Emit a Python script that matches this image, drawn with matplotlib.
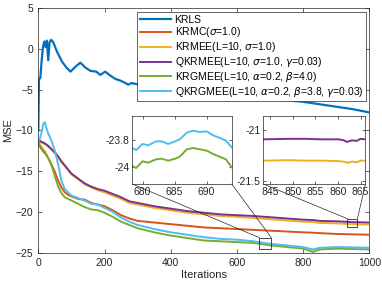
# MSE learning curves of kernel adaptive filters, with two zoomed insets
import matplotlib
matplotlib.use("Agg")
import matplotlib.pyplot as plt
from matplotlib.patches import Rectangle, ConnectionPatch

plt.rcParams['font.family'] = ['Liberation Sans', 'DejaVu Sans']
plt.rcParams['font.size'] = 7.5

# ---- data ----
iters = [0, 5, 10, 15, 20, 25, 30, 40, 50, 60, 70, 80, 90, 100, 120, 140, 160, 180,
         200, 225, 250, 275, 300, 350, 400, 450, 500, 550, 600, 650, 700, 750, 800,
         830, 850, 900, 950, 1000]

krmc = [-11.6, -12.0, -12.3, -12.6, -12.8, -13.1, -13.4, -14.2, -15.1, -16.2, -17.0, -17.6,
        -17.9, -18.1, -18.4, -18.5, -18.9, -19.1, -19.3, -19.8, -20.4, -20.8, -21.1, -21.3,
        -21.5, -21.7, -21.9, -22.0, -22.1, -22.2, -22.3, -22.4, -22.5, -22.55, -22.6, -22.7,
        -22.75, -22.8]
krmee = [-11.3, -11.4, -11.5, -11.6, -11.7, -11.85, -12.0, -12.4, -12.8, -13.3, -13.9, -14.4,
         -14.9, -15.4, -16.0, -16.6, -17.0, -17.35, -17.6, -18.0, -18.4, -18.9, -19.1, -19.5,
         -19.8, -20.1, -20.3, -20.5, -20.6, -20.75, -20.9, -21.05, -21.2, -21.25, -21.35,
         -21.4, -21.5, -21.55]
qkrmee = [-11.2, -11.3, -11.4, -11.5, -11.6, -11.75, -11.9, -12.3, -12.7, -13.2, -13.8, -14.3,
          -14.8, -15.3, -15.9, -16.5, -16.9, -17.2, -17.4, -17.8, -18.2, -18.7, -18.9, -19.3,
          -19.6, -19.9, -20.1, -20.3, -20.4, -20.5, -20.65, -20.8, -20.95, -21.0, -21.1,
          -21.15, -21.25, -21.3]
krgmee = [-11.4, -11.8, -12.1, -12.4, -12.6, -13.0, -13.4, -14.3, -15.6, -16.9, -17.7, -18.2,
          -18.4, -18.6, -19.0, -19.4, -19.7, -19.8, -20.1, -20.6, -21.2, -21.6, -22.0, -22.5,
          -22.9, -23.2, -23.5, -23.6, -23.7, -23.8, -24.1, -24.3, -24.5, -24.9, -24.6, -24.5,
          -24.55, -24.6]
qkrgmee = [-11.3, -11.0, -10.2, -9.2, -9.0, -9.8, -10.4, -11.3, -12.5, -14.2, -16.2, -17.2,
           -17.6, -18.0, -18.3, -18.6, -19.0, -19.1, -19.5, -20.0, -20.7, -21.2, -21.6, -22.1,
           -22.5, -22.8, -23.1, -23.3, -23.4, -23.6, -23.9, -24.1, -24.3, -24.6, -24.4, -24.3,
           -24.35, -24.4]

krls_iters = [0, 2, 6, 10, 14, 18, 22, 26, 30, 34, 39, 45, 57, 72, 85, 97, 112, 127, 142,
              157, 175, 187, 202, 218, 233, 248, 263, 272, 281, 350, 450, 550, 650, 700,
              750, 800, 850, 900, 950, 1000]
krls = [-10.0, -3.7, -3.6, -1.5, 0.2, 0.9, 0.2, 1.0, -1.4, 0.8, 1.1, 0.8, -0.4, -1.6, -2.3,
        -2.8, -2.2, -1.7, -2.3, -2.7, -2.8, -3.2, -2.8, -3.3, -3.7, -3.9, -4.2, -4.4, -4.2,
        -4.8, -5.3, -5.8, -6.1, -6.2, -6.3, -6.5, -6.8, -7.1, -7.4, -7.8]

# inset 1 (iterations 678-694)
z1_iters = [678.4, 679.0, 680.0, 680.9, 682.1, 683.0, 684.0, 685.1, 685.8, 686.9, 687.9,
            688.9, 690.0, 691.0, 692.0, 693.0, 693.9]
z1_qkrgmee = [-23.86, -23.875, -23.83, -23.84, -23.81, -23.81, -23.83, -23.81, -23.795,
              -23.745, -23.73, -23.74, -23.735, -23.765, -23.783, -23.805, -23.855]
z1_krgmee = [-23.995, -24.01, -23.96, -23.97, -23.945, -23.94, -23.955, -23.94, -23.925,
             -23.87, -23.86, -23.87, -23.88, -23.905, -23.925, -23.945, -24.005]

# inset 2 (iterations 843-866)
z2_iters = [843.5, 849.1, 852.8, 856.5, 860.2, 861.3, 862.0, 863.1, 864.2, 865.0, 866.1]
z2_qkrmee = [-21.09, -21.085, -21.085, -21.09, -21.09, -21.10, -21.115, -21.10, -21.105,
             -21.085, -21.09]
z2_krmee = [-21.30, -21.295, -21.30, -21.30, -21.305, -21.31, -21.32, -21.31, -21.315,
            -21.30, -21.30]

labels = ['KRLS', r'KRMC($\sigma$=1.0)', r'KRMEE(L=10, $\sigma$=1.0)',
          r'QKRMEE(L=10, $\sigma$=1.0, $\gamma$=0.03)',
          r'KRGMEE(L=10, $\alpha$=0.2, $\beta$=4.0)',
          r'QKRGMEE(L=10, $\alpha$=0.2, $\beta$=3.8, $\gamma$=0.03)']
colors = ['#0072BD', '#D95319', '#EDB120', '#7E2F8E', '#77AC30', '#4DBEEE']
edge = '#262626'

fig = plt.figure(figsize=(3.82, 2.87), dpi=100)
ax = fig.add_axes([0.1003, 0.1195, 0.8665, 0.8526])

ax.plot(krls_iters, krls, color=colors[0], lw=1.6, label=labels[0])
for ys, lab, c in zip([krmc, krmee, qkrmee, krgmee, qkrgmee], labels[1:], colors[1:]):
    ax.plot(iters, ys, color=c, lw=1.4, label=lab)

ax.set_xlim(0, 1000)
ax.set_ylim(-25, 5)
ax.set_xticks([0, 200, 400, 600, 800, 1000])
ax.set_yticks([-25, -20, -15, -10, -5, 0, 5])
ax.tick_params(direction='in', top=True, right=True, length=3, width=0.5,
               labelsize=7.5, colors=edge, labelcolor=edge)
for s in ax.spines.values():
    s.set_linewidth(0.5)
    s.set_color(edge)
ax.set_xlabel('Iterations', fontsize=8, color=edge, labelpad=2)
ax.set_ylabel('MSE', fontsize=8, color=edge, labelpad=2)

leg = ax.legend(loc='upper right', bbox_to_anchor=(0.958, 0.958), bbox_transform=fig.transFigure,
                fontsize=7.5, fancybox=False, framealpha=1, edgecolor=edge, handlelength=3.0,
                handletextpad=0.35, labelspacing=0.08, borderpad=0.25, borderaxespad=0)
leg.get_frame().set_linewidth(0.5)

# zoom boxes on the main axes
ax.add_patch(Rectangle((668, -24.5), 36, 1.34, fill=False, lw=0.6, ec=edge, zorder=5))
ax.add_patch(Rectangle((934, -21.8), 30, 0.96, fill=False, lw=0.6, ec=edge, zorder=5))


def style_inset(a):
    a.tick_params(direction='in', top=True, right=True, length=2.5, width=0.5,
                  labelsize=7.5, colors=edge, labelcolor=edge, pad=2)
    for s in a.spines.values():
        s.set_linewidth(0.5)
        s.set_color(edge)


ins1 = fig.add_axes([0.3463, 0.3589, 0.2602, 0.2369])
ins1.plot(z1_iters, z1_krgmee, color=colors[4], lw=1.4)
ins1.plot(z1_iters, z1_qkrgmee, color=colors[5], lw=1.4)
ins1.set_xlim(678.4, 693.9)
ins1.set_ylim(-24.13, -23.62)
ins1.set_xticks([680, 685, 690])
ins1.set_yticks([-24, -23.8])
ins1.set_yticklabels(['-24', '-23.8'])
style_inset(ins1)

ins2 = fig.add_axes([0.6893, 0.3589, 0.2675, 0.2369])
ins2.plot(z2_iters, z2_krmee, color=colors[2], lw=1.4)
ins2.plot(z2_iters, z2_qkrmee, color=colors[3], lw=1.4)
ins2.set_xlim(843.5, 866.1)
ins2.set_ylim(-21.53, -20.86)
ins2.set_xticks([845, 850, 855, 860, 865])
ins2.set_yticks([-21.5, -21])
ins2.set_yticklabels(['-21.5', '-21'])
style_inset(ins2)

# connector lines from inset corners to zoom boxes
for ins, (x0, x1, ytop) in [(ins1, (668, 704, -23.16)), (ins2, (934, 964, -20.84))]:
    for fx, bx in [(0, x0), (1, x1)]:
        con = ConnectionPatch(xyA=(fx, 0), coordsA=ins.transAxes, xyB=(bx, ytop),
                              coordsB=ax.transData, lw=0.5, color=edge)
        fig.add_artist(con)

fig.savefig('out.png', dpi=100)
